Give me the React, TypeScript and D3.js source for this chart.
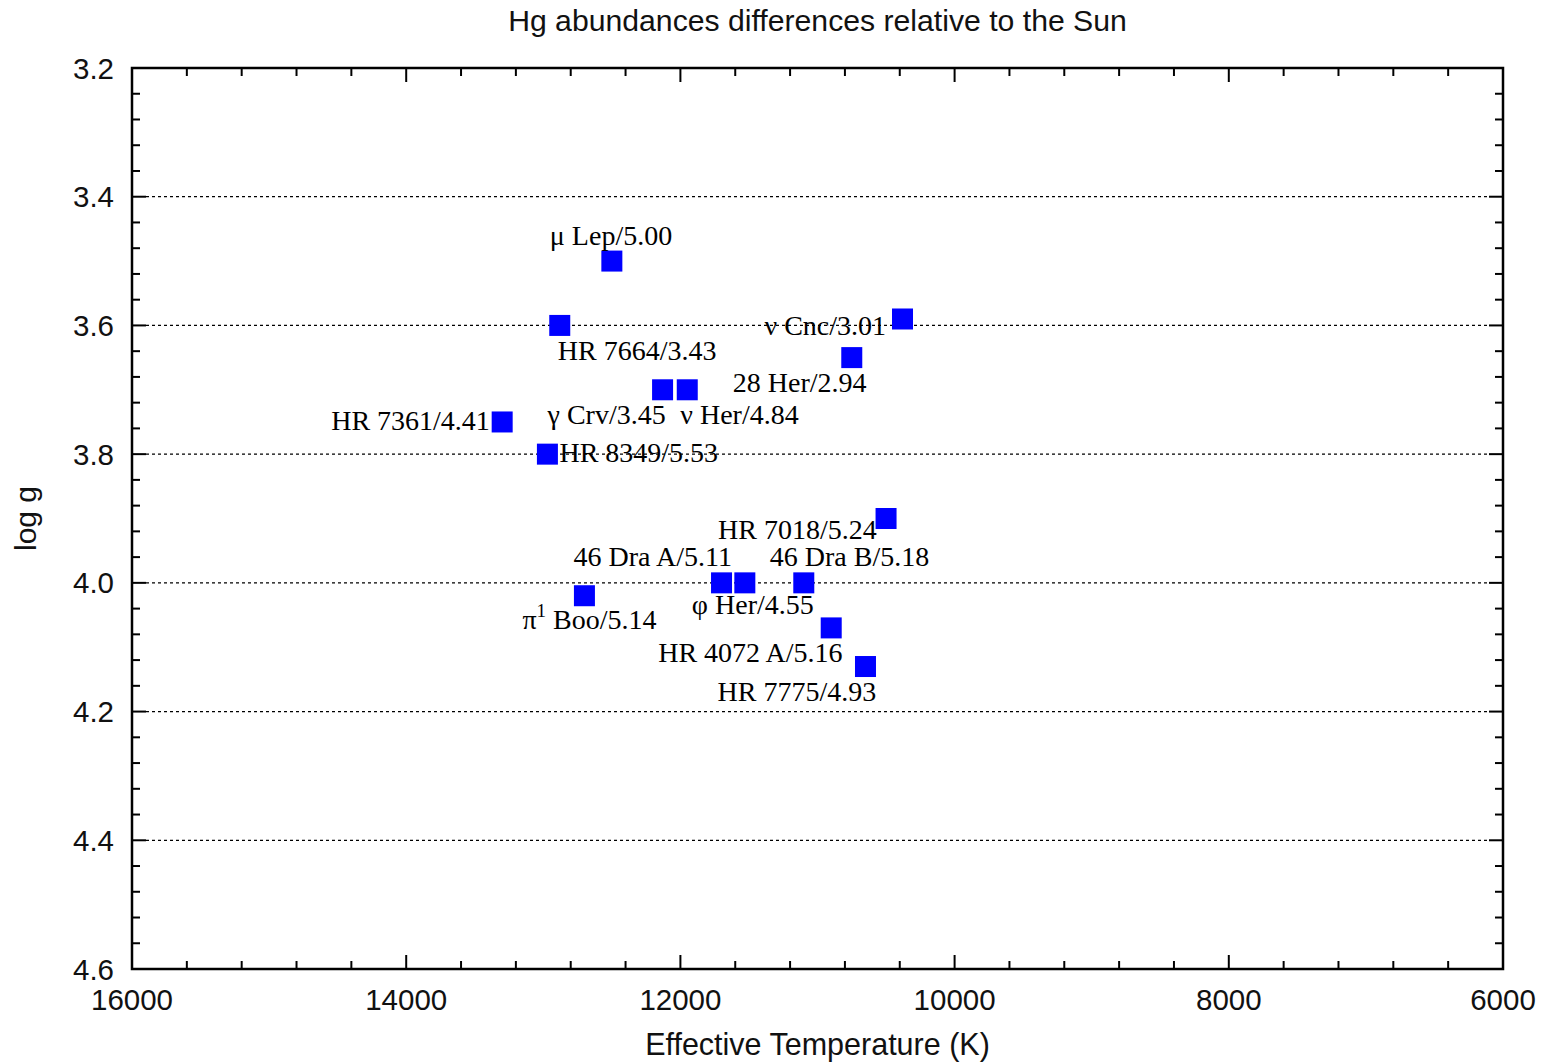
import React from "react";
import * as d3 from "d3";

const starNames = [
  "μ Lep/5.00", "HR 7664/3.43", "ν Cnc/3.01", "28 Her/2.94", "γ Crv/3.45",
  "ν Her/4.84", "HR 7361/4.41", "HR 8349/5.53", "HR 7018/5.24", "46 Dra A/5.11",
  "φ Her/4.55", "46 Dra B/5.18", "π1 Boo/5.14", "HR 4072 A/5.16", "HR 7775/4.93",
];
const teffValues = [12500, 12880, 10380, 10750, 12130, 11950, 13300, 12970, 10500, 11700, 11530, 11100, 12700, 10900, 10650];
const loggValues = [3.5, 3.6, 3.59, 3.65, 3.7, 3.7, 3.75, 3.8, 3.9, 4.0, 4.0, 4.0, 4.02, 4.07, 4.13];
// label placement offsets (px) from the marker centre to the label's start/baseline
const labelDx = [-62, -2, -138, -119, -115, -7, -171, 12, -168, -148, -53, -34, -62, -173, -148];
const labelDy = [-16, 35, 16, 34, 34, 34, 8, 8, 20, -17, 31, -17, 33, 34, 34];

const xTicks = [16000, 14000, 12000, 10000, 8000, 6000];
const yTicks = [3.2, 3.4, 3.6, 3.8, 4.0, 4.2, 4.4, 4.6];

const W = 1551, H = 1064;
const L = 132, R = 1503, T = 68, B = 969;

export default function App() {
  const x = d3.scaleLinear().domain([16000, 6000]).range([L, R]);
  const y = d3.scaleLinear().domain([3.2, 4.6]).range([T, B]);
  const xMinor = d3.range(16000, 5999, -400).filter((v) => v % 2000 !== 0);
  const yMinor = d3.range(0, 36).map((i) => +(3.2 + i * 0.04).toFixed(2)).filter((v) => Math.abs(v * 10 - Math.round(v * 10)) > 1e-6 || Math.round(v * 10) % 2 !== 0);
  const sans = "'Liberation Sans', Arial, sans-serif";
  const serif = "'Liberation Serif', 'Times New Roman', serif";
  const sq = 21;

  return (
    <svg width={W} height={H} style={{ position: "absolute", left: 0, top: 0, background: "#fff" }}>
      <text x={(L + R) / 2} y={31} textAnchor="middle" fontFamily={sans} fontSize={30.2} fill="#111">
        Hg abundances differences relative to the Sun
      </text>
      {/* grid */}
      {yTicks.slice(1, -1).map((v) => (
        <line key={"g" + v} x1={L + 14} x2={R - 14} y1={y(v)} y2={y(v)} stroke="#000" strokeWidth={1.2} strokeDasharray="3,3" />
      ))}
      {/* ticks */}
      {xTicks.map((v) => (
        <g key={"xt" + v}>
          <line x1={x(v)} x2={x(v)} y1={B} y2={B - 14} stroke="#000" strokeWidth={2} />
          <line x1={x(v)} x2={x(v)} y1={T} y2={T + 14} stroke="#000" strokeWidth={2} />
          <text x={x(v)} y={1010} textAnchor="middle" fontFamily={sans} fontSize={29.5} fill="#111">{v}</text>
        </g>
      ))}
      {xMinor.map((v) => (
        <g key={"xm" + v}>
          <line x1={x(v)} x2={x(v)} y1={B} y2={B - 8} stroke="#000" strokeWidth={2} />
          <line x1={x(v)} x2={x(v)} y1={T} y2={T + 8} stroke="#000" strokeWidth={2} />
        </g>
      ))}
      {yTicks.map((v) => (
        <g key={"yt" + v}>
          <line x1={L} x2={L + 14} y1={y(v)} y2={y(v)} stroke="#000" strokeWidth={2} />
          <line x1={R} x2={R - 14} y1={y(v)} y2={y(v)} stroke="#000" strokeWidth={2} />
          <text x={114} y={y(v)} dy="0.36em" textAnchor="end" fontFamily={sans} fontSize={29.5} fill="#111">{v.toFixed(1)}</text>
        </g>
      ))}
      {yMinor.map((v) => (
        <g key={"ym" + v}>
          <line x1={L} x2={L + 8} y1={y(v)} y2={y(v)} stroke="#000" strokeWidth={2} />
          <line x1={R} x2={R - 8} y1={y(v)} y2={y(v)} stroke="#000" strokeWidth={2} />
        </g>
      ))}
      <rect x={L} y={T} width={R - L} height={B - T} fill="none" stroke="#000" strokeWidth={2.5} />
      {/* axis titles */}
      <text x={(L + R) / 2} y={1055} textAnchor="middle" fontFamily={sans} fontSize={30.5} fill="#111">
        Effective Temperature (K)
      </text>
      <text transform={`translate(36,${(T + B) / 2}) rotate(-90)`} textAnchor="middle" fontFamily={sans} fontSize={30} fill="#111">
        log g
      </text>
      {/* points */}
      {teffValues.map((t, i) => (
        <rect key={"p" + i} x={x(t) - sq / 2} y={y(loggValues[i]) - sq / 2} width={sq} height={sq} fill="#0000ff" />
      ))}
      {/* labels */}
      {starNames.map((name, i) => {
        const lx = x(teffValues[i]) + labelDx[i];
        const ly = y(loggValues[i]) + labelDy[i];
        if (name.startsWith("π1")) {
          return (
            <text key={"l" + i} x={lx} y={ly} fontFamily={serif} fontSize={28} fill="#000">
              π<tspan dy={-12} fontSize={19}>1</tspan><tspan dy={12}>{"\u00a0" + name.slice(3)}</tspan>
            </text>
          );
        }
        return (
          <text key={"l" + i} x={lx} y={ly} fontFamily={serif} fontSize={28} fill="#000">{name}</text>
        );
      })}
    </svg>
  );
}
